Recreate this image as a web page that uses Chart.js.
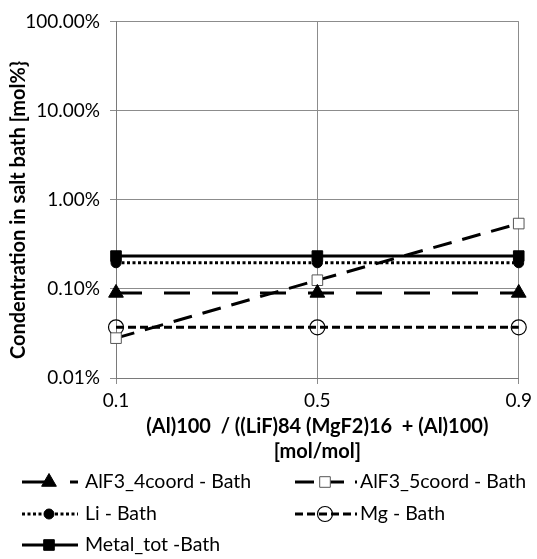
<!DOCTYPE html>
<html>
<head>
<meta charset="utf-8">
<script src="https://cdn.jsdelivr.net/npm/chart.js@4/dist/chart.umd.min.js"></script>
<style>
  html, body { margin: 0; padding: 0; background: #ffffff; }
  #wrap { width: 537px; height: 559px; position: relative; }
</style>
</head>
<body>
<div id="wrap"><canvas id="chart" width="537" height="559"></canvas></div>
<script>
// Mole ratio (Al)100 / ((LiF)84 (MgF2)16 + (Al)100)
const categories = ['0.1', '0.5', '0.9'];

// Concentrations in the salt bath, in mol%
const alf3_4coord = [0.090, 0.090, 0.090];
const alf3_5coord = [0.028, 0.125, 0.540];
const liBath      = [0.196, 0.196, 0.196];
const mgBath      = [0.037, 0.037, 0.037];
const metalTot    = [0.233, 0.233, 0.233];

const seriesNames = ['AlF3_4coord - Bath', 'AlF3_5coord - Bath', 'Li - Bath', 'Mg - Bath', 'Metal_tot -Bath'];
const yTicks = [0.01, 0.1, 1, 10, 100];

const yTitle = 'Condentration in salt bath [mol%}';
const xTitle = ['(Al)100  / ((LiF)84 (MgF2)16  + (Al)100)', '[mol/mol]'];

const FONT = 'Lato, "Open Sans", "Liberation Sans", sans-serif';

const datasets = [
  {
    label: seriesNames[0], data: alf3_4coord,
    borderColor: '#000', borderWidth: 3, borderDash: [26, 22],
    pointStyle: 'triangle', pointRadius: 8.5, pointBackgroundColor: '#000', pointBorderColor: '#000', pointBorderWidth: 1
  },
  {
    label: seriesNames[1], data: alf3_5coord,
    borderColor: '#000', borderWidth: 3, borderDash: [19, 11],
    pointStyle: 'rect', pointRadius: 7.5, pointBackgroundColor: '#fff', pointBorderColor: '#555', pointBorderWidth: 1
  },
  {
    label: seriesNames[2], data: liBath,
    borderColor: '#000', borderWidth: 3, borderDash: [3, 2.5],
    pointStyle: 'circle', pointRadius: 5, pointBackgroundColor: '#000', pointBorderColor: '#000', pointBorderWidth: 1
  },
  {
    label: seriesNames[3], data: mgBath,
    borderColor: '#000', borderWidth: 3, borderDash: [8, 4],
    pointStyle: 'circle', pointRadius: 7.5, pointBackgroundColor: 'rgba(255,255,255,0)', pointBorderColor: '#000', pointBorderWidth: 1.2
  },
  {
    label: seriesNames[4], data: metalTot,
    borderColor: '#000', borderWidth: 3, borderDash: [],
    pointStyle: 'rect', pointRadius: 7.5, pointBackgroundColor: '#000', pointBorderColor: '#000', pointBorderWidth: 1
  }
];
datasets.forEach(d => { d.fill = false; d.tension = 0; d.borderCapStyle = 'butt'; });

// Small marker painter used by the legend
function paintMarker(ctx, ds, x, y) {
  const r = ds.pointRadius;
  ctx.save();
  ctx.setLineDash([]);
  ctx.lineWidth = ds.pointBorderWidth;
  ctx.strokeStyle = ds.pointBorderColor;
  ctx.fillStyle = ds.pointBackgroundColor;
  ctx.beginPath();
  if (ds.pointStyle === 'triangle') {
    const w = r * Math.sqrt(3) / 2;
    ctx.moveTo(x, y - r);
    ctx.lineTo(x + w, y + r / 2);
    ctx.lineTo(x - w, y + r / 2);
    ctx.closePath();
  } else if (ds.pointStyle === 'rect') {
    const s = r * Math.SQRT1_2;
    ctx.rect(x - s, y - s, 2 * s, 2 * s);
  } else {
    ctx.arc(x, y, r, 0, Math.PI * 2);
  }
  ctx.fill();
  ctx.stroke();
  ctx.restore();
}

// Two-column legend under the x-axis title, plus the rotated y-axis title
const sidePlugin = {
  id: 'sideText',
  afterDraw(chart) {
    const ctx = chart.ctx;
    const sets = chart.data.datasets;
    const slots = [
      { x0: 22, x1: 78, tx: 85, y: 482 },
      { x0: 295, x1: 357, tx: 360, y: 482 },
      { x0: 22, x1: 78, tx: 85, y: 514 },
      { x0: 295, x1: 357, tx: 360, y: 514 },
      { x0: 22, x1: 78, tx: 85, y: 545 }
    ];
    sets.forEach((ds, i) => {
      const s = slots[i];
      ctx.save();
      ctx.strokeStyle = ds.borderColor;
      ctx.lineWidth = ds.borderWidth;
      ctx.setLineDash(ds.borderDash);
      ctx.beginPath();
      ctx.moveTo(s.x0, s.y);
      ctx.lineTo(s.x1, s.y);
      ctx.stroke();
      ctx.restore();
      paintMarker(ctx, ds, (s.x0 + s.x1) / 2 - 1, s.y);
      ctx.save();
      ctx.fillStyle = '#000';
      ctx.font = '19.5px ' + FONT;
      ctx.textBaseline = 'middle';
      ctx.textAlign = 'left';
      ctx.fillText(ds.label, s.tx, s.y);
      ctx.restore();
    });

    ctx.save();
    ctx.translate(19, 210);
    ctx.rotate(-Math.PI / 2);
    ctx.fillStyle = '#000';
    ctx.font = 'bold 20px ' + FONT;
    ctx.textAlign = 'center';
    ctx.textBaseline = 'middle';
    ctx.fillText(yTitle, 0, 0);
    ctx.restore();
  }
};

new Chart(document.getElementById('chart'), {
  type: 'line',
  data: { labels: categories, datasets: datasets },
  plugins: [sidePlugin],
  options: {
    responsive: false,
    animation: false,
    layout: { padding: { top: 18, right: 13, bottom: 94, left: 0 } },
    plugins: { legend: { display: false }, tooltip: { enabled: false } },
    scales: {
      x: {
        type: 'category',
        offset: false,
        grid: { color: '#8c8c8c', lineWidth: 1, tickLength: 6, offset: false },
        border: { color: '#7a7a7a', width: 1 },
        ticks: { color: '#000', font: { family: FONT, size: 19 }, padding: 5, maxRotation: 0, autoSkip: false },
        title: {
          display: true, text: xTitle, color: '#000',
          font: { family: FONT, size: 20, weight: 'bold', lineHeight: 1.25 },
          padding: { top: 0, bottom: 1 }
        },
        afterFit(scale) { scale.height = 87; }
      },
      y: {
        type: 'logarithmic',
        min: 0.01,
        max: 100,
        grid: { color: '#8c8c8c', lineWidth: 1, tickLength: 6 },
        border: { color: '#7a7a7a', width: 1 },
        ticks: {
          color: '#000', font: { family: FONT, size: 19 }, padding: 10,
          callback: v => Number(v).toFixed(2) + '%'
        },
        afterBuildTicks(scale) { scale.ticks = yTicks.map(v => ({ value: v, major: true })); },
        afterFit(scale) { scale.width = 116; }
      }
    }
  }
});
</script>
</body>
</html>
